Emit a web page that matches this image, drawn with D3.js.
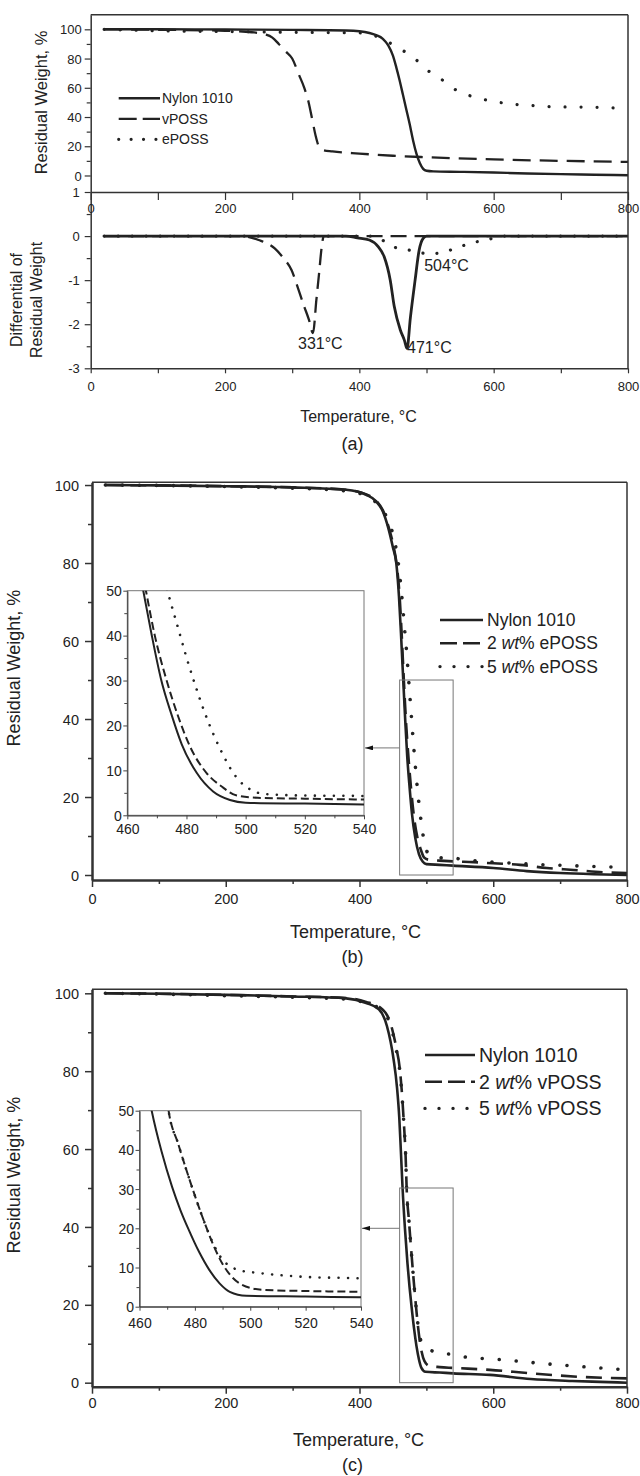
<!DOCTYPE html>
<html><head><meta charset="utf-8">
<script src="https://cdn.jsdelivr.net/npm/d3@7"></script>
<style>
body{margin:0;background:#fff}
svg text{font-family:Arial,"Liberation Sans",Helvetica,sans-serif;fill:#222}
</style>
</head><body>
<script>
// ---------------- DATA ----------------
// Panel (a) TGA: [temperature °C, residual weight %]
const tgaA_nylon = [[20,100],[100,100],[200,99.9],[300,99.6],[380,99.2],[400,98.7],[415,97.5],[425,96],[435,93.5],[443,89],[450,82],[455,74],[460,65],[465,55],[470,45],[475,35],[480,24],[485,15],[490,8.5],[495,4.5],[500,3.2],[510,2.8],[550,2.5],[600,2],[650,1.4],[700,0.9],[750,0.5],[800,0.2]];
const tgaA_vposs = [[20,100],[100,99.7],[200,99],[240,98],[260,96.5],[270,94.5],[280,90],[290,85],[300,80],[310,69],[318,60],[324,51],[330,38],[335,27],[340,19.5],[345,17.5],[360,16.5],[400,15],[450,13.5],[500,12.5],[600,11],[700,10],[800,9.3]];
const tgaA_eposs = [[20,100],[100,99],[200,98.5],[300,98],[400,97.5],[420,96],[434,93.5],[455,88],[480,81],[500,72.5],[523,65.5],[547,57.6],[572,53.6],[596,51],[624,49],[655,47.9],[690,47],[750,46.7],[800,45.8]];
// Panel (a) DTG: [temperature °C, differential of residual weight]
const dtgA_nylon = [[20,0],[380,0],[397,-0.04],[415,-0.09],[428,-0.24],[437,-0.47],[446,-1.0],[452,-1.6],[461,-2.13],[467,-2.36],[471,-2.55],[476,-1.85],[483,-1.0],[489,-0.32],[495,-0.05],[500,0],[800,0]];
const dtgA_vposs = [[20,0],[225,0],[250,-0.09],[274,-0.28],[287,-0.5],[299,-0.77],[308,-1.15],[317,-1.56],[325,-1.9],[331,-2.2],[336,-1.45],[340,-0.85],[344,-0.24],[347,0],[800,0]];
const dtgA_eposs = [[20,0],[420,0],[434,-0.09],[450,-0.24],[475,-0.32],[504,-0.4],[517,-0.39],[535,-0.32],[550,-0.24],[572,-0.14],[594,-0.07],[610,0],[800,0]];
const peaksA = [331, 471, 504];
// Panel (b)
const tgaB_nylon = [[20,100],[100,99.9],[200,99.7],[300,99.4],[380,98.8],[410,97.5],[425,95.8],[435,93.2],[443,89],[450,84],[455,80],[459,71.5],[462,62],[465.4,50],[468.2,40.3],[471.4,30.3],[475,22.3],[478.4,15.8],[483.5,9.4],[489,5.3],[494.7,3.4],[500,2.8],[520,2.6],[540,2.4],[600,1.8],[650,1.0],[700,0.5],[750,0.2],[800,0]];
const tgaB_e2 = [[20,100],[100,99.9],[200,99.7],[300,99.4],[380,98.8],[410,97.6],[425,96],[435,93.5],[443,89.5],[450,85],[456,79],[460,71.5],[463,62],[466.3,50],[469.3,40],[473.3,30],[477.2,22],[481.2,15.3],[486.8,9.4],[491.9,6.4],[497,4.4],[504,3.9],[520,3.7],[540,3.5],[570,3.3],[600,3.0],[640,2.6],[680,1.8],[720,1.3],[765,0.7],[800,0.5]];
const tgaB_e5 = [[20,100],[100,99.9],[200,99.6],[300,99.2],[380,98.5],[410,97.2],[425,95.5],[435,93.5],[445,90],[452,86],[458,80],[463,72],[467,64],[471,56],[474.4,48],[477.2,41.6],[479.8,35.6],[482.8,29.3],[486.2,22.8],[489.6,17.3],[492.4,13.4],[494.7,10.6],[498,7.6],[502,5.6],[507,4.7],[520,4.4],[540,4.3],[570,3.7],[613,3.2],[666,2.7],[716,2.4],[745,2.2],[800,2.0]];
// Panel (c)
const tgaC_nylon = [[20,100],[100,99.9],[200,99.6],[300,99.2],[380,98.7],[410,97.5],[429,95.9],[441,91.6],[451,83],[456,76],[459.5,68],[462,59],[464.4,50],[468,39.5],[471.8,30.5],[474.8,24.6],[477.8,19.6],[481.5,14],[485.2,9.4],[489,5.9],[492.6,3.8],[498.6,2.8],[520,2.6],[540,2.4],[595,2.0],[656,0.95],[718,0.44],[760,0.2],[800,0]];
const tgaC_v2 = [[20,100],[100,99.9],[200,99.6],[300,99.2],[380,98.8],[410,97.8],[430,96.5],[445,93],[455,86],[460,81],[463,75.4],[466,67.6],[469,58],[470.5,50],[474,41.5],[477.8,33],[481,26.3],[484,20.5],[487,15.2],[490,10.9],[493,7.9],[497,5.6],[504.5,4.3],[520,4.0],[540,3.8],[595,3.3],[656,2.4],[730,1.5],[800,1.1]];
const tgaC_v5 = [[20,100],[100,99.8],[200,99.4],[300,99],[380,98.5],[410,97.5],[430,96],[445,92.5],[455,85.5],[460,80.5],[463,75],[466,67.5],[469,58.5],[470.5,50],[474,41.5],[477.8,33],[481,26.3],[484,20.5],[487,15.5],[490,12],[493,10.2],[496,9.3],[503,8.6],[520,7.6],[540,7.2],[546,6.9],[620,5.8],[669,5.0],[719,4.3],[800,3.3]];

// Ticks and labels
const xTicksMain = [0,200,400,600,800];
const xMinorMain = [100,300,500,700];
const yTicksTGA = [0,20,40,60,80,100];
const yMinorTGA = [10,30,50,70,90];
const yTicksDTG = [-3,-2,-1,0,1];
const yMinorDTG = [-2.5,-1.5,-0.5,0.5];
const xTicksInset = [460,480,500,520,540];
const xMinorInset = [470,490,510,530];
const yTicksInset = [0,10,20,30,40,50];
const yMinorInset = [5,15,25,35,45];
const insetDomainX = [460,540];
const insetDomainY = [0,50];
const legendA = [["Nylon 1010"],["vPOSS"],["ePOSS"]];
const legendB = [["Nylon 1010"],["2 ","wt","% ePOSS"],["5 ","wt","% ePOSS"]];
const legendC = [["Nylon 1010"],["2 ","wt","% vPOSS"],["5 ","wt","% vPOSS"]];
const xTitle = "Temperature, °C";
const yTitleTGA = "Residual Weight, %";
const yTitleDTG = ["Differential of","Residual Weight"];
const panelTags = ["(a)","(b)","(c)"];

// ---------------- DRAWING ----------------
const INK = "#222";
const svg = d3.select("body").append("svg").attr("width",640).attr("height",1476);
const defs = svg.append("defs");
defs.append("marker").attr("id","ah").attr("viewBox","0 0 10 6").attr("refX",10).attr("refY",3)
  .attr("markerWidth",8).attr("markerHeight",5).attr("markerUnits","userSpaceOnUse").attr("orient","auto")
  .append("path").attr("d","M0,0L10,3L0,6Z").attr("fill","#111");

let clipN = 0;
function clip(x0,y0,x1,y1){
  const id = "cl"+(clipN++);
  defs.append("clipPath").attr("id",id).append("rect").attr("x",x0).attr("y",y0).attr("width",x1-x0).attr("height",y1-y0);
  return "url(#"+id+")";
}
function styleOf(kind, s){
  if(kind==="solid") return {dash:null,w:s.sw,cap:"butt"};
  if(kind==="dash") return {dash:s.dash,w:s.dw,cap:"butt"};
  return {dash:"0.01,"+s.dot,w:s.ow,cap:"round"};
}
function drawLine(g, data, x, y, st){
  const ln = d3.line().x(d=>x(d[0])).y(d=>y(d[1])).curve(d3.curveMonotoneX);
  g.append("path").attr("d",ln(data)).attr("fill","none").attr("stroke",INK)
    .attr("stroke-width",st.w).attr("stroke-dasharray",st.dash).attr("stroke-linecap",st.cap).attr("stroke-linejoin","round");
}
function axis(g, type, scale, major, minor, o){
  const mk = type==="left"? d3.axisLeft : d3.axisBottom;
  const tr = type==="left"? `translate(${o.at},0)` : `translate(0,${o.at})`;
  if(minor){
    const gm = g.append("g").attr("transform",tr).call(mk(scale).tickValues(minor).tickSize(o.minor).tickSizeOuter(0).tickFormat(""));
    gm.select(".domain").remove();
    gm.selectAll(".tick line").attr("stroke",o.color||"#333").attr("stroke-width",o.tw||1.2);
  }
  const ga = g.append("g").attr("transform",tr).call(mk(scale).tickValues(major).tickSize(o.tick).tickSizeOuter(0).tickFormat(d=>String(d)));
  ga.select(".domain").attr("stroke",o.color||"#333").attr("stroke-width",o.width);
  ga.selectAll(".tick line").attr("stroke",o.color||"#333").attr("stroke-width",o.tw||1.2);
  const t = ga.selectAll(".tick text").attr("font-size",o.font).attr("fill",INK).attr("font-family","Arial,'Liberation Sans',sans-serif");
  if(type==="left") t.attr("x",-(o.tick+o.pad)).attr("dy","0.35em");
  else t.attr("y",o.lab).attr("dy","0.35em");
  return ga;
}
function legend(g, rows, kinds, s, o){
  rows.forEach((parts,i)=>{
    const yy = o.y0 + i*o.dy;
    const st = styleOf(kinds[i], s);
    g.append("line").attr("x1",o.x0).attr("x2",o.x1).attr("y1",yy).attr("y2",yy)
      .attr("stroke",INK).attr("stroke-width",st.w).attr("stroke-dasharray",st.dash).attr("stroke-linecap",st.cap);
    const t = g.append("text").attr("x",o.tx).attr("y",yy).attr("dy","0.35em").attr("font-size",o.font);
    parts.forEach((p,j)=>{ t.append("tspan").text(p).attr("font-style", (parts.length>1 && j===1)?"italic":null); });
  });
}
function vtext(g, str, cx, cy, size){
  g.append("text").attr("transform",`translate(${cx},${cy}) rotate(-90)`).attr("text-anchor","middle")
    .attr("dy","0.35em").attr("font-size",size).text(str);
}
function htext(g, str, cx, cy, size, fam){
  const t = g.append("text").attr("x",cx).attr("y",cy).attr("text-anchor","middle").attr("dy","0.35em").attr("font-size",size).text(str);
  if(fam) t.attr("font-family",fam);
  return t;
}

// ======== Panel (a) ========
(function(){
  const g = svg.append("g");
  const L=90.7, R=628, T1=14.7, M=192, B2=368.3;
  const x = d3.scaleLinear([0,800],[L,R]);
  const y1 = d3.scaleLinear([-11.3,110],[M,T1]);
  const y2 = d3.scaleLinear([-3,1],[B2,M]);
  const s = {sw:2.4, dash:"18,9", dw:2.3, dot:16, ow:3.2};
  const sd = {sw:2.8, dash:"16,8", dw:2.3, dot:14, ow:3.2};
  const g1 = g.append("g").attr("clip-path",clip(L,T1,R,M));
  drawLine(g1, tgaA_eposs, x, y1, styleOf("dot",s));
  drawLine(g1, tgaA_vposs, x, y1, styleOf("dash",s));
  drawLine(g1, tgaA_nylon, x, y1, styleOf("solid",s));
  const g2 = g.append("g").attr("clip-path",clip(L,M,R,B2));
  drawLine(g2, dtgA_eposs, x, y2, styleOf("dot",sd));
  drawLine(g2, dtgA_vposs, x, y2, styleOf("dash",sd));
  drawLine(g2, dtgA_nylon, x, y2, styleOf("solid",sd));
  g.append("line").attr("x1",L).attr("x2",R).attr("y1",T1).attr("y2",T1).attr("stroke","#333").attr("stroke-width",1.5);
  g.append("line").attr("x1",R).attr("x2",R).attr("y1",T1).attr("y2",B2).attr("stroke","#333").attr("stroke-width",1.5);
  axis(g,"left",y1,yTicksTGA,yMinorTGA,{at:L,tick:6,minor:4,pad:3,font:13,width:1.5});
  axis(g,"left",y2,yTicksDTG,yMinorDTG,{at:L,tick:6,minor:4,pad:5,font:13,width:1.5});
  axis(g,"bottom",x,xTicksMain,xMinorMain,{at:M,tick:8,minor:8,lab:16,font:13,width:1.5});
  axis(g,"bottom",x,xTicksMain,xMinorMain,{at:B2,tick:5,minor:5,lab:18,font:13,width:1.5});
  const off = [[-15,16],[0,5],[-5,17]];
  const peakY = [-2.2,-2.55,-0.4];
  peaksA.forEach((p,i)=>{
    g.append("text").attr("x",x(p)+off[i][0]).attr("y",y2(peakY[i])+off[i][1]).attr("font-size",16).text(p+"°C");
  });
  legend(g, legendA, ["solid","dash","dot"], {sw:2.4,dash:"18,6",dw:2.3,dot:12.4,ow:3.2}, {x0:118.7,x1:160,tx:162,y0:98.3,dy:20.5,font:14});
  vtext(g, yTitleTGA, 41, 102.5, 16.5);
  const yt = g.append("text").attr("transform","translate(28,300) rotate(-90)").attr("text-anchor","middle").attr("font-size",16);
  yt.append("tspan").attr("x",0).attr("dy","-0.35em").text(yTitleDTG[0]);
  yt.append("tspan").attr("x",0).attr("dy","1.25em").text(yTitleDTG[1]);
  htext(g, xTitle, 358.5, 416.7, 16);
  htext(g, panelTags[0], 352.6, 444, 18, "'Liberation Serif','Times New Roman',serif");
})();

// ======== Panels (b) and (c) ========
function tgaPanel(P){
  const g = svg.append("g");
  const x = d3.scaleLinear([0,800],[P.L,P.R]);
  const y = d3.scaleLinear(P.yDom,[P.B,P.T]);
  const s = {sw:2.6, dash:"16,9", dw:2.6, dot:17, ow:3.6};
  const gc = g.append("g").attr("clip-path",clip(P.L,P.T,P.R,P.B));
  drawLine(gc, P.series[2], x, y, styleOf("dot",s));
  drawLine(gc, P.series[1], x, y, styleOf("dash",s));
  drawLine(gc, P.series[0], x, y, styleOf("solid",s));
  g.append("line").attr("x1",P.L).attr("x2",P.R).attr("y1",P.T).attr("y2",P.T).attr("stroke","#333").attr("stroke-width",1.5);
  g.append("line").attr("x1",P.R).attr("x2",P.R).attr("y1",P.T).attr("y2",P.B).attr("stroke","#333").attr("stroke-width",1.5);
  axis(g,"left",y,yTicksTGA,yMinorTGA,{at:P.L,tick:7,minor:4,pad:6,font:14.5,width:2.5,tw:1.5});
  axis(g,"bottom",x,xTicksMain,xMinorMain,{at:P.B,tick:7,minor:4,lab:P.xlab,font:14.5,width:2.5,tw:1.5});
  g.append("rect").attr("x",x(insetDomainX[0])).attr("y",y(insetDomainY[1]))
    .attr("width",x(insetDomainX[1])-x(insetDomainX[0])).attr("height",y(insetDomainY[0])-y(insetDomainY[1]))
    .attr("fill","none").attr("stroke","#777").attr("stroke-width",1);
  const I = P.inset;
  const xi = d3.scaleLinear(insetDomainX,[I.L,I.R]);
  const yi = d3.scaleLinear(insetDomainY,[I.B,I.T]);
  g.append("rect").attr("x",I.L).attr("y",I.T).attr("width",I.R-I.L).attr("height",I.B-I.T).attr("fill","#fff").attr("stroke","#777").attr("stroke-width",1);
  const si = {sw:2, dash:"8,4", dw:2, dot:9.5, ow:2.6};
  const gi = g.append("g").attr("clip-path",clip(I.L,I.T,I.R,I.B));
  drawLine(gi, P.series[2], xi, yi, styleOf("dot",si));
  drawLine(gi, P.series[1], xi, yi, styleOf("dash",si));
  drawLine(gi, P.series[0], xi, yi, styleOf("solid",si));
  axis(g,"left",yi,yTicksInset,yMinorInset,{at:I.L,tick:4,minor:3,pad:1.5,font:14,width:1.2,tw:1,color:"#444"});
  axis(g,"bottom",xi,xTicksInset,xMinorInset,{at:I.B,tick:4,minor:3,lab:P.ixlab,font:14,width:1.2,tw:1,color:"#444"});
  g.append("line").attr("x1",x(insetDomainX[0])).attr("x2",I.R+1).attr("y1",yi(P.arrowAt)).attr("y2",yi(P.arrowAt))
    .attr("stroke","#777").attr("stroke-width",1).attr("marker-end","url(#ah)");
  legend(g, P.legend, ["solid","dash","dot"], {sw:2.6,dash:"17,6",dw:2.6,dot:14,ow:3.4}, P.leg);
  vtext(g, yTitleTGA, 14, P.ytY, 18);
  htext(g, xTitle, P.xtX, P.xtY, 18);
  htext(g, P.tag, 352.5, P.tagY, 18, "'Liberation Serif','Times New Roman',serif");
}
tgaPanel({L:92,R:627,T:482.3,B:880,yDom:[-1.28,100.7],xlab:19.3,
  series:[tgaB_nylon,tgaB_e2,tgaB_e5],
  inset:{L:127.3,R:364,T:590.7,B:815.3}, ixlab:14, arrowAt:15,
  legend:legendB, leg:{x0:440,x1:483,tx:487,y0:620,dy:23.3,font:17.5},
  ytY:668, xtX:355.5, xtY:932, tag:panelTags[1], tagY:957});
tgaPanel({L:92,R:627,T:989.3,B:1386.7,yDom:[-1.03,101.03],xlab:16.6,
  series:[tgaC_nylon,tgaC_v2,tgaC_v5],
  inset:{L:139.5,R:361,T:1110.7,B:1306.7}, ixlab:16.6, arrowAt:20,
  legend:legendC, leg:{x0:425,x1:475,tx:479,y0:1055,dy:26.7,font:19.5},
  ytY:1175, xtX:358.5, xtY:1440, tag:panelTags[2], tagY:1465});
</script>
</body></html>
